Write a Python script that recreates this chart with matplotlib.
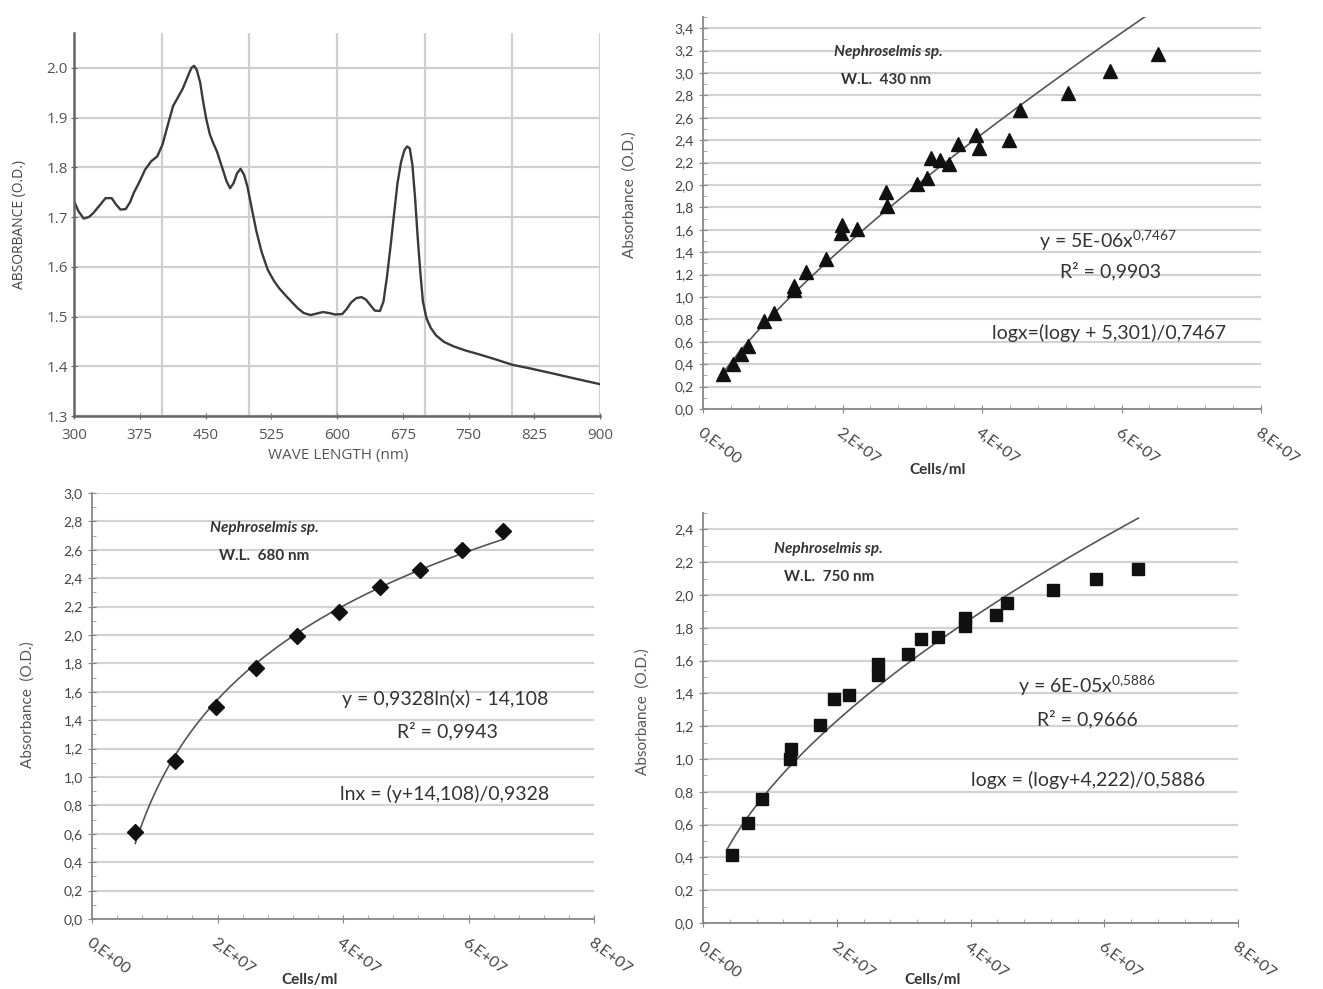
import numpy as np
import matplotlib
matplotlib.use("Agg")
from matplotlib import pyplot as plt
from matplotlib.ticker import MultipleLocator, FuncFormatter

plt.rcParams['font.family'] = ['Lato', 'DejaVu Sans']
plt.rcParams['mathtext.fontset'] = 'custom'
plt.rcParams['mathtext.rm'] = 'Lato'
plt.rcParams['mathtext.it'] = 'Lato:italic'

# absorption spectrum (top left)
wave = [300, 305, 311, 317, 322, 330, 336, 343, 348, 353, 359, 364, 368, 375, 381, 388, 395,
        401, 407, 413, 419, 424, 428, 431, 434, 437, 440, 444, 447, 451, 455, 459, 463, 468,
        474, 478, 482, 486, 490, 494, 498, 503, 508, 514, 521, 528, 534, 541, 548, 555, 562,
        570, 577, 584, 591, 598, 606, 611, 616, 622, 628, 633, 638, 643, 649, 653, 657, 661,
        665, 669, 673, 677, 680, 683, 686, 689, 692, 695, 698, 702, 707, 713, 722, 733, 746,
        762, 777, 800, 822, 845, 872, 900]
absorb = [1.732, 1.712, 1.697, 1.700, 1.708, 1.725, 1.738, 1.738, 1.725, 1.715, 1.716, 1.730,
          1.748, 1.772, 1.795, 1.812, 1.822, 1.846, 1.885, 1.923, 1.942, 1.958, 1.975, 1.988,
          2.000, 2.004, 1.996, 1.970, 1.935, 1.896, 1.866, 1.848, 1.832, 1.805, 1.772, 1.758,
          1.768, 1.788, 1.797, 1.785, 1.760, 1.715, 1.672, 1.630, 1.594, 1.572, 1.557, 1.543,
          1.530, 1.517, 1.507, 1.503, 1.506, 1.509, 1.507, 1.504, 1.505, 1.515, 1.528, 1.537,
          1.539, 1.534, 1.523, 1.512, 1.511, 1.530, 1.580, 1.640, 1.705, 1.768, 1.810, 1.835,
          1.842, 1.838, 1.805, 1.740, 1.660, 1.590, 1.530, 1.497, 1.477, 1.462, 1.449, 1.440,
          1.432, 1.424, 1.416, 1.403, 1.395, 1.386, 1.375, 1.364]

# 430 nm
cells430 = [0.29e7, 0.435e7, 0.55e7, 0.65e7, 0.88e7, 1.02e7, 1.30e7, 1.31e7, 1.47e7, 1.77e7,
            1.98e7, 1.99e7, 2.21e7, 2.62e7, 2.64e7, 3.07e7, 3.21e7, 3.27e7, 3.40e7, 3.53e7,
            3.65e7, 3.92e7, 3.96e7, 4.38e7, 4.55e7, 5.23e7, 5.84e7, 6.53e7]
abs430 = [0.31, 0.40, 0.49, 0.56, 0.79, 0.86, 1.06, 1.10, 1.22, 1.34, 1.57, 1.64, 1.61, 1.94,
          1.81, 2.01, 2.06, 2.24, 2.22, 2.19, 2.37, 2.45, 2.33, 2.40, 2.67, 2.82, 3.02, 3.17]

# 680 nm
cells680 = [0.69e7, 1.33e7, 1.97e7, 2.61e7, 3.27e7, 3.93e7, 4.59e7, 5.23e7, 5.90e7, 6.55e7]
abs680 = [0.61, 1.11, 1.49, 1.77, 1.99, 2.16, 2.34, 2.46, 2.60, 2.73]

# 750 nm
cells750 = [0.435e7, 0.67e7, 0.88e7, 1.305e7, 1.31e7, 1.75e7, 1.96e7, 2.19e7, 2.61e7, 2.61e7,
            3.06e7, 3.26e7, 3.51e7, 3.92e7, 3.92e7, 4.38e7, 4.55e7, 5.23e7, 5.87e7, 6.51e7]
abs750 = [0.416, 0.607, 0.755, 0.999, 1.06, 1.21, 1.365, 1.39, 1.51, 1.58, 1.64, 1.73, 1.746,
          1.81, 1.86, 1.876, 1.953, 2.03, 2.095, 2.156]

cell_ticks = [0, 2e7, 4e7, 6e7, 8e7]
cell_labels = ["0,E+00", "2,E+07", "4,E+07", "6,E+07", "8,E+07"]
wave_ticks = [300, 375, 450, 525, 600, 675, 750, 825, 900]
wave_grid = [400, 500, 600, 700, 800, 900]

W, H = 1323, 989
fig = plt.figure(figsize=(W / 100, H / 100), dpi=100)


def px_axes(x0, x1, ytop, ybot):
    return fig.add_axes([x0 / W, 1 - ybot / H, (x1 - x0) / W, (ybot - ytop) / H])


def ftext(x, y, s, **kw):
    fig.text(x / W, 1 - y / H, s, ha='center', va='center', **kw)


# ---- top left: spectrum
ax = px_axes(74, 600, 33, 416)
ax.plot(wave, absorb, color='#3a3a3a', lw=1.7)
ax.set_xlim(300, 900)
ax.set_ylim(1.3, 2.07)
ax.set_xticks(wave_ticks)
ax.set_yticks(np.arange(1.3, 2.01, 0.1))
ax.yaxis.set_major_formatter(FuncFormatter(lambda v, p: f"{v:.1f}"))
for g in wave_grid:
    ax.axvline(g, color='#cfcfcf', lw=1.6, zorder=0)
ax.grid(True, which='major', axis='y', color='#cfcfcf', lw=1.6)
ax.tick_params(which='major', direction='inout', length=5, color='#666', labelsize=11,
               labelcolor='#555')
ax.tick_params(axis='x', pad=6)
ax.tick_params(axis='y', pad=2)
for s in ['top', 'right']:
    ax.spines[s].set_visible(False)
for s in ['left', 'bottom']:
    ax.spines[s].set_color('#666')
    ax.spines[s].set_linewidth(1.8)
for lab in ax.get_xticklabels() + ax.get_yticklabels():
    lab.set_fontfamily('Open Sans')
ax.set_axisbelow(True)
ftext(20, 225, "ABSORBANCE (O.D.)", rotation=90, fontsize=10, color='#444', family='Open Sans')
ftext(338, 455, "WAVE LENGTH (nm)", fontsize=11, color='#555', family='Open Sans')


def excel_axes(ax, ymax, ytop_tick):
    ax.set_xlim(0, 8e7)
    ax.set_ylim(0, ymax)
    ax.set_xticks(cell_ticks)
    ax.set_xticklabels(cell_labels, rotation=-37, ha='left', va='top', rotation_mode='anchor')
    ax.set_yticks(np.arange(0, ytop_tick + 0.01, 0.2))
    ax.yaxis.set_major_formatter(FuncFormatter(lambda v, p: f"{v:.1f}".replace('.', ',')))
    ax.xaxis.set_minor_locator(MultipleLocator(0.4e7))
    ax.yaxis.set_minor_locator(MultipleLocator(0.1))
    ax.grid(True, which='major', axis='y', color='#d2d2d2', lw=1.6)
    ax.tick_params(which='major', direction='inout', length=6, color='#888', labelsize=10,
                   labelcolor='#444')
    ax.tick_params(axis='x', which='major', pad=9, labelsize=11.5)
    ax.tick_params(which='minor', direction='in', length=3, color='#999')
    for s in ['top', 'right']:
        ax.spines[s].set_visible(False)
    for s in ['left', 'bottom']:
        ax.spines[s].set_color('#888')
        ax.spines[s].set_linewidth(1.3)
    ax.set_axisbelow(True)


mk = '#111111'
ln = '#555555'

# ---- top right: 430 nm, power trend
ax = px_axes(703, 1261, 17, 409)
excel_axes(ax, 3.5, 3.4)
b, a = np.polyfit(np.log(cells430), np.log(abs430), 1)
xf = np.linspace(min(cells430) * 0.8, max(cells430), 200)
ax.plot(xf, np.exp(a) * xf ** b, color=ln, lw=1.2)
ax.plot(cells430, abs430, '^', color=mk, ms=10, zorder=3)
ftext(888, 52, "Nephroselmis sp.", fontsize=11, weight='bold', style='italic', color='#333')
ftext(886, 80, "W.L.  430 nm", fontsize=11, weight='bold', color='#333')
ftext(1108, 241, r"y = 5E-06x$^{0{,}7467}$", fontsize=14, color='#333')
ftext(1111, 271, "R² = 0,9903", fontsize=14, color='#333')
ftext(1109, 333, "logx=(logy + 5,301)/0,7467", fontsize=14, color='#333')
ftext(630, 195, "Absorbance  (O.D.)", rotation=90, fontsize=11, color='#555')
ftext(938, 470, "Cells/ml", fontsize=11, weight='bold', color='#333')

# ---- bottom left: 680 nm, log trend
ax = px_axes(92, 594, 493, 919)
excel_axes(ax, 3.0, 3.0)
m, c = np.polyfit(np.log(cells680), abs680, 1)
xf = np.linspace(min(cells680), max(cells680), 200)
ax.plot(xf, m * np.log(xf) + c, color=ln, lw=1.2)
ax.plot(cells680, abs680, 'D', color=mk, ms=8, zorder=3)
ftext(264, 528, "Nephroselmis sp.", fontsize=11, weight='bold', style='italic', color='#333')
ftext(264, 556, "W.L.  680 nm", fontsize=11, weight='bold', color='#333')
ftext(445, 699, "y = 0,9328ln(x) - 14,108", fontsize=14, color='#333')
ftext(447, 731, "R² = 0,9943", fontsize=14, color='#333')
ftext(445, 794, "lnx = (y+14,108)/0,9328", fontsize=14, color='#333')
ftext(28, 705, "Absorbance  (O.D.)", rotation=90, fontsize=11, color='#555')
ftext(310, 980, "Cells/ml", fontsize=11, weight='bold', color='#333')

# ---- bottom right: 750 nm, power trend
ax = px_axes(703, 1238, 513, 923)
excel_axes(ax, 2.5, 2.4)
b, a = np.polyfit(np.log(cells750), np.log(abs750), 1)
xf = np.linspace(min(cells750) * 0.85, max(cells750), 200)
ax.plot(xf, np.exp(a) * xf ** b, color=ln, lw=1.2)
ax.plot(cells750, abs750, 's', color=mk, ms=9, zorder=3)
ftext(828, 549, "Nephroselmis sp.", fontsize=11, weight='bold', style='italic', color='#333')
ftext(829, 577, "W.L.  750 nm", fontsize=11, weight='bold', color='#333')
ftext(1087, 686, r"y = 6E-05x$^{0{,}5886}$", fontsize=14, color='#333')
ftext(1087, 719, "R² = 0,9666", fontsize=14, color='#333')
ftext(1088, 780, "logx = (logy+4,222)/0,5886", fontsize=14, color='#333')
ftext(643, 712, "Absorbance  (O.D.)", rotation=90, fontsize=11, color='#555')
ftext(933, 980, "Cells/ml", fontsize=11, weight='bold', color='#333')

fig.savefig("out.png", dpi=100)
